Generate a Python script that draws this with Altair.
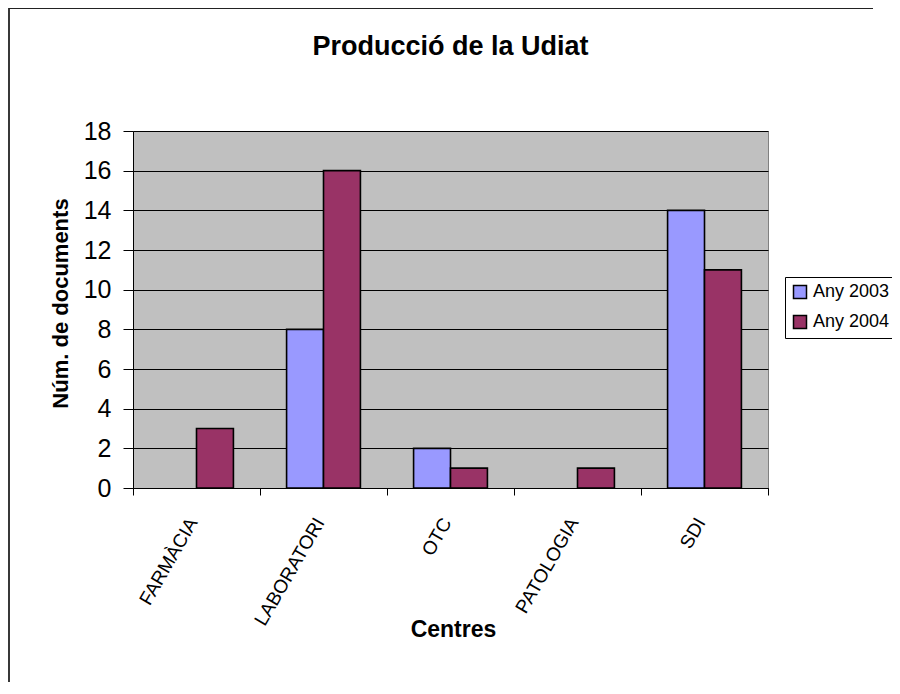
import altair as alt
import pandas as pd

centres = ["FARMÀCIA", "LABORATORI", "OTC", "PATOLOGIA", "SDI"]
any_2003 = [0, 8, 2, 0, 14]
any_2004 = [3, 16, 1, 1, 11]
series = ["Any 2003", "Any 2004"]
colors = ["#9999FF", "#993366"]
y_ticks = [0, 2, 4, 6, 8, 10, 12, 14, 16, 18]

rows = []
for c, a, b in zip(centres, any_2003, any_2004):
    rows.append({"centre": c, "serie": series[0], "value": a})
    rows.append({"centre": c, "serie": series[1], "value": b})
df = pd.DataFrame(rows)

FONT = "Liberation Sans"

bars = alt.Chart(df).transform_filter("datum.value > 0").mark_bar(
    stroke="black", strokeWidth=1.6
).encode(
    x=alt.X("centre:N", sort=centres,
            scale=alt.Scale(paddingInner=0, paddingOuter=0),
            axis=alt.Axis(title="Centres", labelAngle=300, labelAlign="right",
                          labelBaseline="middle", labelPadding=24, labelOffset=-4,
                          labelFontSize=19, tickSize=7, tickBand="extent",
                          tickColor="black", domainColor="black",
                          titleFontSize=23, titleFontWeight="bold",
                          titleX=320, titleY=148, titleBaseline="alphabetic",
                          titleAlign="center", grid=False, labelColor="black",
                          titleColor="black")),
    xOffset=alt.XOffset("serie:N", sort=series,
                        scale=alt.Scale(paddingInner=0, paddingOuter=0.72)),
    y=alt.Y("value:Q", scale=alt.Scale(domain=[0, 18], nice=False),
            axis=alt.Axis(title="Núm. de documents", values=y_ticks,
                          labelFontSize=25, labelPadding=12, tickSize=10,
                          tickColor="black", domainColor="black",
                          gridColor="black", gridWidth=1,
                          titleFontSize=22, titleFontWeight="bold",
                          titleX=-66, titleY=172, titleAngle=270,
                          titleAlign="center", titleBaseline="alphabetic",
                          labelColor="black", titleColor="black")),
    color=alt.Color("serie:N", sort=series,
                    scale=alt.Scale(domain=series, range=colors),
                    legend=alt.Legend(title=None, orient="none", legendX=652,
                                      legendY=146, strokeColor="black",
                                      fillColor="white", padding=6,
                                      labelFontSize=18, symbolType="square",
                                      symbolSize=169, symbolStrokeColor="black",
                                      symbolStrokeWidth=1.5, rowPadding=10,
                                      labelOffset=4, labelColor="black")),
)

one = pd.DataFrame({"k": [1]})
frame_top = alt.Chart(one).mark_rule(color="#222222", strokeWidth=1.8).encode(
    x=alt.value(-124), x2=alt.value(740), y=alt.value(-123)
)
frame_left = alt.Chart(one).mark_rule(color="#222222", strokeWidth=1.8).encode(
    x=alt.value(-124), y=alt.value(-123), y2=alt.value(700)
)

chart = alt.layer(bars, frame_top, frame_left).properties(
    width=635, height=357,
    padding={"left": 125, "top": 123, "right": 124, "bottom": 194},
    autosize=alt.AutoSizeParams(type="none"),
    title=alt.TitleParams("Producció de la Udiat", fontSize=27, fontWeight="bold",
                          anchor="middle", frame="group", baseline="alphabetic",
                          offset=0, dy=75, color="black", font=FONT),
).configure(
    font=FONT, background="white"
).configure_view(
    fill="#C0C0C0", stroke="#808080", strokeWidth=1
).configure_axis(
    labelFont=FONT, titleFont=FONT
).configure_legend(
    labelFont=FONT
)

chart.save("out.html", embed_options={"renderer": "svg", "actions": False})
